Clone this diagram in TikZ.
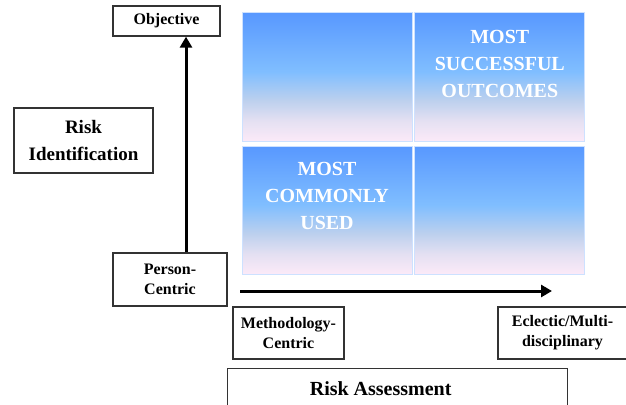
\documentclass[tikz,border=0pt]{standalone}
\usepackage{fontspec}
\setmainfont{Liberation Serif}
\usetikzlibrary{positioning, arrows.meta}
\definecolor{qpink}{RGB}{252,234,248}
\definecolor{qmist}{RGB}{228,224,242}
\definecolor{qlav}{RGB}{188,208,238}
\definecolor{qlight}{RGB}{128,190,255}
\definecolor{qblue}{RGB}{88,152,255}
\definecolor{qedge}{RGB}{205,225,255}
\pgfdeclareverticalshading{quadfade}{100bp}{color(0bp)=(qpink); color(25bp)=(qpink); color(33bp)=(qmist); color(41bp)=(qlav); color(52bp)=(qlight); color(75bp)=(qblue); color(100bp)=(qblue)}
\tikzset{
box/.style={draw=black!80, line width=1.3pt, fill=white, align=center, inner sep=0pt, font=\bfseries\fontsize{16}{20}\selectfont}, % small labelled boxes
quad/.style={minimum width=170pt, minimum height=128.5pt, inner sep=0pt, shading=quadfade, draw=qedge, line width=0.8pt}, % one cell of the grid
quadtext/.style={text=white, align=center, font=\bfseries\fontsize{20}{27}\selectfont},
axis/.style={line width=3pt, -{Triangle[length=11pt,width=12pt]}},
}

\begin{document}
\begin{tikzpicture}[x=1pt, y=-1pt]
    \useasboundingbox (0,0) rectangle (626,404);

    % the four cells
    \node[quad] (qTL) at (327,77) {};
    \node[quad, right=2pt of qTL] (qTR) {};
    \node[quad, below=4pt of qTL] (qBL) {};
    \node[quad, right=2pt of qBL] (qBR) {};

    \node[quadtext] (best) at ([yshift=13pt]qTR.center) {MOST\\SUCCESSFUL\\OUTCOMES};
    \node[quadtext] (common) at ([yshift=14pt]qBL.center) {MOST\\COMMONLY\\USED};

    % vertical axis
    \node[box, minimum width=107pt, minimum height=30pt] (objective) at (166.5,21) {Objective};
    \node[box, minimum width=114pt, minimum height=53pt] (person) at (170,279.5) {Person-\\Centric};
    \node[box, minimum width=139pt, minimum height=65pt, font=\bfseries\fontsize{19}{28}\selectfont] (riskid) at (83.5,140.5) {Risk\\Identification};

    % horizontal axis
    \node[box, minimum width=111pt, minimum height=52pt] (method) at (288.5,333) {Methodology-\\Centric};
    \node[box, minimum width=129pt, minimum height=52pt] (eclectic) at (562.5,333) {Eclectic/Multi-\\disciplinary};
    \node[box, minimum width=340pt, minimum height=44pt, anchor=north west,
        label={[font=\bfseries\fontsize{20}{24}\selectfont, xshift=-17pt, yshift=2pt]center:Risk Assessment}] (assess) at (227,368) {};

    \coordinate (vx) at (186,0);
    \coordinate (hstart) at (240,291);
    \coordinate (hend) at (552,291);

    \draw[axis] (person.north -| vx) -- (objective.south -| vx);
    \draw[axis] (hstart) -- (hend);

\end{tikzpicture}
\end{document}
